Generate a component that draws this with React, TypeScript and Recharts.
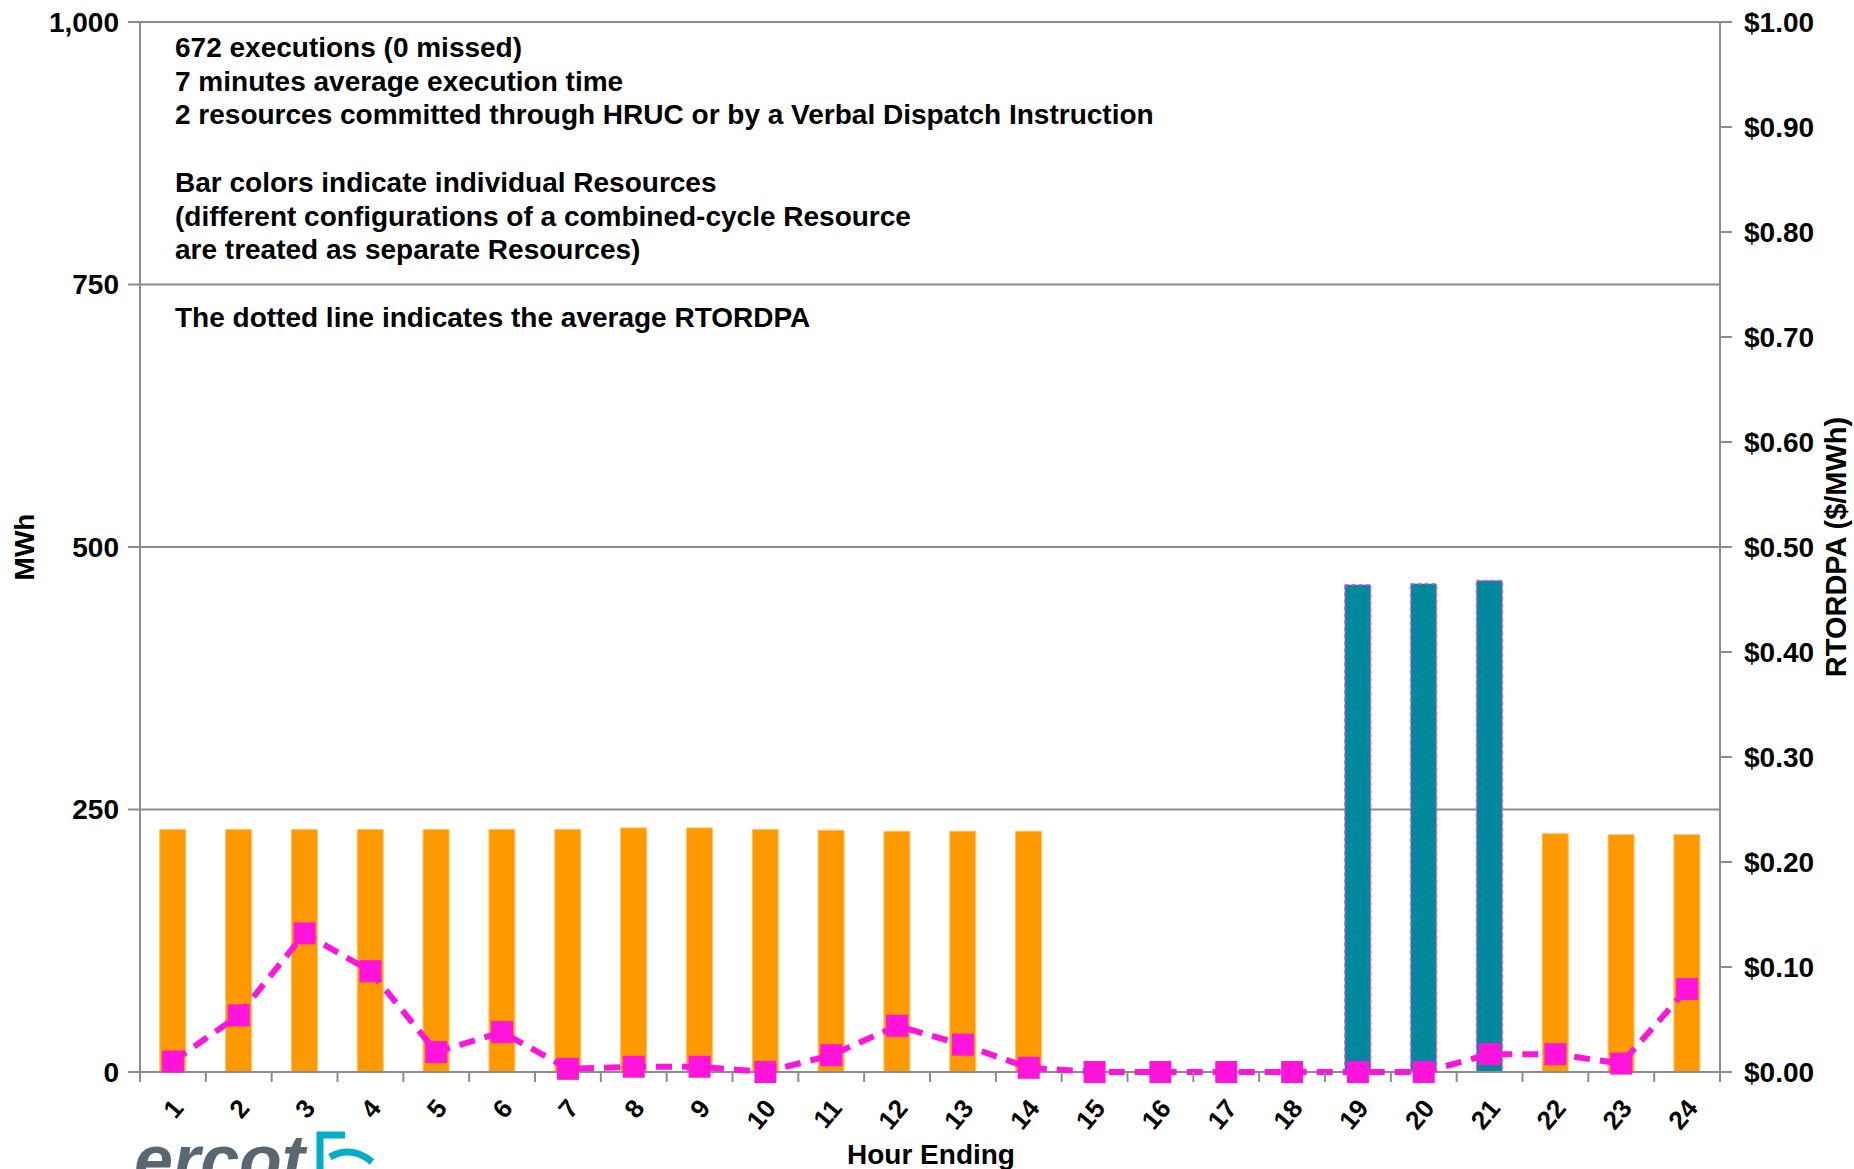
import React from "react";
import { ComposedChart, Bar, Line, XAxis, YAxis, CartesianGrid } from "recharts";

const hours = [
  "1", "2", "3", "4", "5", "6", "7", "8", "9", "10", "11", "12",
  "13", "14", "15", "16", "17", "18", "19", "20", "21", "22", "23", "24",
];

// MWh committed per hour, split by resource (bar colour = resource)
const resourceOrange = [
  231, 231, 231, 231, 231, 231, 231, 232.5, 232.5, 231, 230.3, 229.3,
  229.3, 229.3, null, null, null, null, null, null, null, 227, 226, 226,
];
const resourceTeal = [
  null, null, null, null, null, null, null, null, null, null, null, null,
  null, null, null, null, null, null, 464, 465, 468, null, null, null,
];

// average RTORDPA, $/MWh
const rtordpa = [
  0.01, 0.054, 0.132, 0.096, 0.019, 0.038, 0.003, 0.005, 0.005, 0.0, 0.016, 0.044,
  0.026, 0.004, 0.0, 0.0, 0.0, 0.0, 0.0, 0.0, 0.017, 0.017, 0.008, 0.079,
];

const mwhTicks = [0, 250, 500, 750, 1000];
const priceTicks = [0, 0.1, 0.2, 0.3, 0.4, 0.5, 0.6, 0.7, 0.8, 0.9, 1.0];

const notes = [
  "672 executions (0 missed)",
  "7 minutes average execution time",
  "2 resources committed through HRUC or by a Verbal Dispatch Instruction",
  "",
  "Bar colors indicate individual Resources",
  "(different configurations of a combined-cycle Resource",
  "are treated as separate Resources)",
  "",
  "The dotted line indicates the average RTORDPA",
];

const data = hours.map((h, i) => ({
  hour: h,
  orange: resourceOrange[i],
  teal: resourceTeal[i],
  price: rtordpa[i],
}));

const W = 1854;
const H = 1169;
const PLOT_LEFT = 140;
const PLOT_RIGHT = 1720;
const HALF_BAND = (PLOT_RIGHT - PLOT_LEFT) / hours.length / 2;
const FONT = "'Liberation Sans', Arial, sans-serif";
const AXIS_GRAY = "#8C8C8C";
const MAGENTA = "#FF14DC";

function HourTick(props: any) {
  const { x, y, payload, index } = props;
  const lx = x + 12;
  const ly = y + 37;
  return (
    <g>
      <line x1={x - HALF_BAND} y1={y} x2={x - HALF_BAND} y2={y + 10} stroke={AXIS_GRAY} strokeWidth={2} />
      {index === hours.length - 1 && (
        <line x1={x + HALF_BAND} y1={y} x2={x + HALF_BAND} y2={y + 10} stroke={AXIS_GRAY} strokeWidth={2} />
      )}
      <text
        x={lx}
        y={ly}
        transform={`rotate(-50 ${lx} ${ly})`}
        textAnchor="end"
        fontFamily={FONT}
        fontWeight={700}
        fontSize={26}
        fill="#000"
      >
        {payload.value}
      </text>
    </g>
  );
}

function SquareDot(props: any) {
  const { cx, cy, index } = props;
  if (cx == null || cy == null) return <g key={index} />;
  return <rect key={index} x={cx - 11} y={cy - 11} width={22} height={22} fill={MAGENTA} />;
}

const tickStyle = { fill: "#000", fontSize: 28, fontWeight: 700, fontFamily: FONT };

export default function App() {
  return (
    <div
      style={{
        position: "absolute",
        left: 0,
        top: 0,
        width: W,
        height: H,
        overflow: "hidden",
        background: "#fff",
      }}
    >
      <ComposedChart
        width={W}
        height={H}
        data={data}
        margin={{ top: 22, right: 0, bottom: 0, left: 0 }}
        barCategoryGap="30%"
      >
        <CartesianGrid yAxisId="mwh" vertical={false} stroke={AXIS_GRAY} strokeWidth={2} />
        <XAxis
          dataKey="hour"
          height={97}
          tickLine={false}
          tickSize={0}
          tickMargin={0}
          interval={0}
          axisLine={{ stroke: AXIS_GRAY, strokeWidth: 2 }}
          tick={(p: any) => <HourTick {...p} />}
        />
        <YAxis
          yAxisId="mwh"
          width={140}
          domain={[0, 1000]}
          ticks={mwhTicks}
          tickFormatter={(v: number) => v.toLocaleString("en-US")}
          tickSize={12}
          tickMargin={9}
          tick={tickStyle}
          tickLine={{ stroke: AXIS_GRAY, strokeWidth: 2 }}
          axisLine={{ stroke: AXIS_GRAY, strokeWidth: 2 }}
        />
        <YAxis
          yAxisId="price"
          orientation="right"
          width={134}
          domain={[0, 1]}
          ticks={priceTicks}
          tickFormatter={(v: number) => `$${v.toFixed(2)}`}
          tickSize={12}
          tickMargin={12}
          tick={{ ...tickStyle, textAnchor: "start" }}
          tickLine={{ stroke: AXIS_GRAY, strokeWidth: 2 }}
          axisLine={{ stroke: AXIS_GRAY, strokeWidth: 2 }}
        />
        <Bar
          yAxisId="mwh"
          dataKey="orange"
          stackId="r"
          fill="#FF9900"
          stroke="#FFC266"
          strokeWidth={1}
          isAnimationActive={false}
        />
        <Bar
          yAxisId="mwh"
          dataKey="teal"
          stackId="r"
          fill="#00889C"
          stroke="#FF55DD"
          strokeWidth={1.5}
          strokeDasharray="4 3"
          isAnimationActive={false}
        />
        <Line
          yAxisId="price"
          dataKey="price"
          type="linear"
          stroke={MAGENTA}
          strokeWidth={6}
          strokeDasharray="16 10"
          dot={(p: any) => <SquareDot {...p} />}
          activeDot={false}
          isAnimationActive={false}
          zIndex={900}
        />
      </ComposedChart>

      <svg
        width={W}
        height={H}
        style={{ position: "absolute", left: 0, top: 0, pointerEvents: "none" }}
      >
        {notes.map((t, i) =>
          t ? (
            <text
              key={i}
              x={175}
              y={57 + i * 33.7}
              fontFamily={FONT}
              fontWeight={700}
              fontSize={28}
              fill="#000"
            >
              {t}
            </text>
          ) : null
        )}
        <text
          x={0}
          y={0}
          transform="translate(34 547) rotate(-90)"
          textAnchor="middle"
          fontFamily={FONT}
          fontWeight={700}
          fontSize={28}
        >
          MWh
        </text>
        <text
          x={0}
          y={0}
          transform="translate(1846 547) rotate(-90)"
          textAnchor="middle"
          fontFamily={FONT}
          fontWeight={700}
          fontSize={29}
        >
          RTORDPA ($/MWh)
        </text>
        <text
          x={931}
          y={1164}
          textAnchor="middle"
          fontFamily={FONT}
          fontWeight={700}
          fontSize={28}
        >
          Hour Ending
        </text>
        <text
          x={134}
          y={1184}
          fontFamily={FONT}
          fontWeight={700}
          fontStyle="italic"
          fontSize={70}
          fill="#5B6770"
        >
          ercot
        </text>
        <path d="M 320 1172 V 1135 H 345" fill="none" stroke="#00AEC7" strokeWidth={7} />
        <path d="M 330 1157 Q 352 1145 372 1162" fill="none" stroke="#00AEC7" strokeWidth={7} />
      </svg>
    </div>
  );
}
